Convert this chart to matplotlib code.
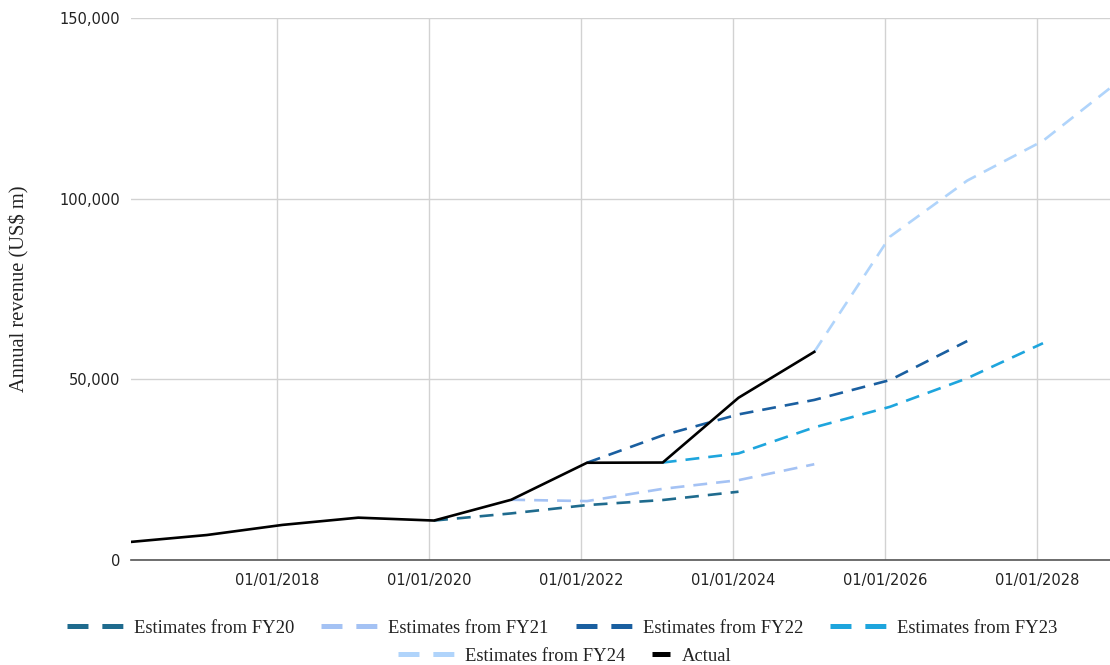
import datetime as dt
import matplotlib
matplotlib.use("Agg")
import matplotlib.pyplot as plt
import matplotlib.dates as mdates
from matplotlib.lines import Line2D
from matplotlib.ticker import FuncFormatter

# Fiscal year-end dates
fy_dates = {
    2016: dt.date(2016, 1, 31), 2017: dt.date(2017, 1, 29), 2018: dt.date(2018, 1, 28),
    2019: dt.date(2019, 1, 27), 2020: dt.date(2020, 1, 26), 2021: dt.date(2021, 1, 31),
    2022: dt.date(2022, 1, 30), 2023: dt.date(2023, 1, 29), 2024: dt.date(2024, 1, 28),
    2025: dt.date(2025, 1, 26), 2026: dt.date(2026, 1, 25), 2027: dt.date(2027, 1, 31),
    2028: dt.date(2028, 1, 30), 2029: dt.date(2029, 1, 28),
}

# Annual revenue, US$ m
actual_years = [2016, 2017, 2018, 2019, 2020, 2021, 2022, 2023, 2024, 2025]
actual = [5010, 6910, 9714, 11716, 10918, 16675, 26914, 26974, 44900, 57600]

fy20_years = [2020, 2021, 2022, 2023, 2024]
fy20 = [10918, 12900, 15200, 16600, 18900]

fy21_years = [2021, 2022, 2023, 2024, 2025]
fy21 = [16675, 16300, 19700, 22100, 26500]

fy22_years = [2022, 2023, 2024, 2025, 2026, 2027]
fy22 = [26914, 34500, 40300, 44300, 49800, 60600]

fy23_years = [2023, 2024, 2025, 2026, 2027, 2028]
fy23 = [26974, 29500, 36700, 42400, 50300, 60000]

fy24_years = [2025, 2026, 2027, 2028, 2029]
fy24 = [57600, 89500, 105000, 116000, 132500]

series = [
    ("Estimates from FY20", fy20_years, fy20, "#1f6b8e"),
    ("Estimates from FY21", fy21_years, fy21, "#a4c2f4"),
    ("Estimates from FY22", fy22_years, fy22, "#1a5fa0"),
    ("Estimates from FY23", fy23_years, fy23, "#1ea5dd"),
    ("Estimates from FY24", fy24_years, fy24, "#b0d4fb"),
]

x_ticks = [dt.date(y, 1, 1) for y in (2018, 2020, 2022, 2024, 2026, 2028)]
y_ticks = [0, 50000, 100000, 150000]

plt.rcParams["lines.scale_dashes"] = False
W, H = 1110, 665
fig = plt.figure(figsize=(W / 100, H / 100), dpi=100)
ax = fig.add_axes([131 / W, 1 - 560 / H, 1 - 131 / W, (560 - 18) / H])

dash = (0, (10, 6.5))
for label, yrs, vals, color in series:
    ax.plot([fy_dates[y] for y in yrs], vals, color=color, lw=1.9,
            linestyle=dash, solid_capstyle="butt", dash_capstyle="butt", zorder=2)
ax.plot([fy_dates[y] for y in actual_years], actual, color="black", lw=1.9,
        solid_joinstyle="round", zorder=3)

ax.set_xlim(fy_dates[2016], dt.date(2028, 12, 17))
ax.set_ylim(0, 150000)
ax.set_xticks(x_ticks)
ax.xaxis.set_major_formatter(mdates.DateFormatter("%d/%m/%Y"))
ax.set_yticks(y_ticks)
ax.yaxis.set_major_formatter(FuncFormatter(lambda v, p: f"{int(v):,}"))

ax.grid(True, color="#d2d2d2", lw=1.0)
ax.set_axisbelow(True)
for s in ("top", "right", "left"):
    ax.spines[s].set_visible(False)
ax.spines["bottom"].set_color("#555555")
ax.spines["bottom"].set_linewidth(1.2)
ax.tick_params(length=0, labelsize=10.5, colors="#222222", pad=8)
ax.tick_params(axis="x", pad=9)
for t in ax.get_xticklabels() + ax.get_yticklabels():
    t.set_fontfamily("DejaVu Sans")

ax.set_ylabel("Annual revenue (US$ m)", family="Liberation Serif", fontsize=14.8,
              color="#222222")
ax.yaxis.set_label_coords((29 - 131) / (W - 131), (560 - 289) / (560 - 18))

# Legend
def handle(color, solid=False):
    if solid:
        return Line2D([], [], color=color, lw=3.6, solid_capstyle="butt")
    return Line2D([], [], color=color, lw=3.6, linestyle=(0, (15.1, 10)),
                  dash_capstyle="butt")

leg_font = {"family": "Liberation Serif", "size": 13.4}
common = dict(frameon=False, borderpad=0, borderaxespad=0,
              columnspacing=1.45, prop=leg_font, loc="center left")

row1 = [(handle(c), l) for l, _, _, c in series[:4]]
lg1 = fig.legend([h for h, _ in row1], [l for _, l in row1], ncol=4,
                 handlelength=3.12, handletextpad=0.48,
                 bbox_to_anchor=(67 / W, 1 - 628 / H), **common)
lg2 = fig.legend([handle(series[4][3])], [series[4][0]], ncol=1,
                 handlelength=3.12, handletextpad=0.48,
                 bbox_to_anchor=(398 / W, 1 - 656 / H), **common)
lg3 = fig.legend([handle("black", solid=True)], ["Actual"], ncol=1,
                 handlelength=0.97, handletextpad=0.65,
                 bbox_to_anchor=(652 / W, 1 - 656 / H), **common)
for lg in (lg1, lg2, lg3):
    for t in lg.get_texts():
        t.set_color("#222222")

fig.savefig("out.png", dpi=100, facecolor="white")
